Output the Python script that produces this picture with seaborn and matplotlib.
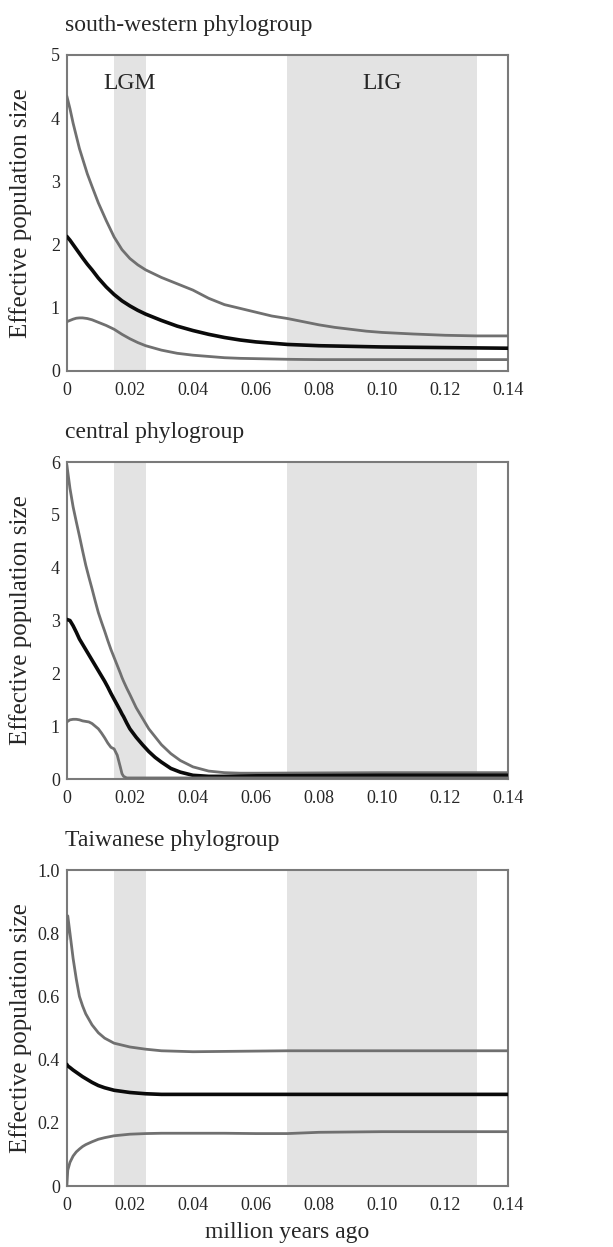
import pandas as pd
import seaborn as sns
import matplotlib.pyplot as plt

# south-western phylogroup
sw_x = [0, 0.001, 0.002, 0.003, 0.004, 0.005, 0.0065, 0.008, 0.01, 0.0125, 0.015, 0.0175,
        0.02, 0.0225, 0.025, 0.03, 0.035, 0.04, 0.045, 0.05, 0.055, 0.06, 0.065, 0.07,
        0.075, 0.08, 0.085, 0.09, 0.095, 0.10, 0.11, 0.12, 0.13, 0.14]
sw_upper = [4.35, 4.15, 3.92, 3.72, 3.52, 3.36, 3.12, 2.92, 2.66, 2.38, 2.12, 1.92,
            1.78, 1.68, 1.6, 1.48, 1.38, 1.28, 1.15, 1.05, 0.99, 0.93, 0.87, 0.83,
            0.78, 0.73, 0.69, 0.66, 0.63, 0.61, 0.585, 0.565, 0.555, 0.555]
sw_mean = [2.13, 2.07, 2.0, 1.93, 1.86, 1.79, 1.69, 1.6, 1.47, 1.33, 1.21, 1.11,
           1.03, 0.96, 0.9, 0.8, 0.71, 0.64, 0.58, 0.53, 0.49, 0.46, 0.44, 0.42,
           0.41, 0.4, 0.395, 0.39, 0.385, 0.38, 0.375, 0.37, 0.365, 0.36]
sw_lower = [0.78, 0.8, 0.82, 0.835, 0.84, 0.84, 0.83, 0.81, 0.77, 0.72, 0.66, 0.58,
            0.51, 0.45, 0.4, 0.33, 0.28, 0.25, 0.23, 0.21, 0.2, 0.195, 0.19, 0.185,
            0.182, 0.18, 0.18, 0.18, 0.18, 0.18, 0.18, 0.18, 0.18, 0.18]

# central phylogroup
ce_x = [0, 0.001, 0.002, 0.003, 0.004, 0.005, 0.006, 0.007, 0.008, 0.009, 0.01, 0.011,
        0.012, 0.013, 0.014, 0.015, 0.016, 0.017, 0.0175, 0.018, 0.019, 0.02, 0.022,
        0.024, 0.026, 0.028, 0.03, 0.033, 0.036, 0.04, 0.045, 0.05, 0.055, 0.06, 0.08,
        0.10, 0.12, 0.14]
ce_upper = [5.95, 5.5, 5.15, 4.87, 4.6, 4.32, 4.05, 3.82, 3.6, 3.37, 3.15, 2.97,
            2.8, 2.62, 2.45, 2.3, 2.15, 2.0, 1.92, 1.85, 1.72, 1.6, 1.35,
            1.15, 0.95, 0.8, 0.65, 0.48, 0.35, 0.23, 0.15, 0.12, 0.11, 0.11, 0.115,
            0.12, 0.12, 0.12]
ce_mean = [3.02, 3.0, 2.9, 2.78, 2.65, 2.55, 2.45, 2.35, 2.25, 2.15, 2.05, 1.95,
           1.85, 1.74, 1.62, 1.51, 1.4, 1.29, 1.23, 1.18, 1.06, 0.95, 0.79,
           0.65, 0.52, 0.41, 0.32, 0.2, 0.13, 0.07, 0.05, 0.05, 0.055, 0.06, 0.065,
           0.07, 0.07, 0.07]
ce_lower = [1.08, 1.12, 1.13, 1.13, 1.12, 1.1, 1.09, 1.08, 1.05, 1.0, 0.95, 0.87,
            0.78, 0.68, 0.6, 0.57, 0.45, 0.22, 0.1, 0.05, 0.02, 0.02, 0.02,
            0.02, 0.02, 0.02, 0.02, 0.02, 0.02, 0.02, 0.02, 0.02, 0.02, 0.02, 0.02,
            0.02, 0.02, 0.02]

# Taiwanese phylogroup
tw_x = [0, 0.0003, 0.001, 0.002, 0.003, 0.004, 0.005, 0.006, 0.008, 0.01, 0.012, 0.015,
        0.02, 0.025, 0.03, 0.04, 0.05, 0.06, 0.07, 0.08, 0.10, 0.12, 0.14]
tw_upper = [0.78, 0.855, 0.8, 0.72, 0.655, 0.6, 0.57, 0.545, 0.51, 0.485, 0.468, 0.452,
            0.44, 0.433, 0.428, 0.425, 0.426, 0.427, 0.428, 0.428, 0.428, 0.428, 0.428]
tw_mean = [0.385, 0.38, 0.375, 0.367, 0.36, 0.353, 0.346, 0.34, 0.328, 0.318, 0.311, 0.303,
           0.296, 0.292, 0.29, 0.29, 0.29, 0.29, 0.29, 0.29, 0.29, 0.29, 0.29]
tw_lower = [0.0, 0.05, 0.075, 0.095, 0.108, 0.117, 0.125, 0.131, 0.14, 0.148, 0.153, 0.159,
            0.164, 0.166, 0.167, 0.167, 0.167, 0.166, 0.166, 0.17, 0.172, 0.172, 0.172]

titles = ["south-western phylogroup", "central phylogroup", "Taiwanese phylogroup"]
panels = [(sw_x, sw_upper, sw_mean, sw_lower),
          (ce_x, ce_upper, ce_mean, ce_lower),
          (tw_x, tw_upper, tw_mean, tw_lower)]
ylims = [(0, 5), (0, 6), (0, 1.0)]
yticks = [[0, 1, 2, 3, 4, 5], [0, 1, 2, 3, 4, 5, 6], [0, 0.2, 0.4, 0.6, 0.8, 1.0]]
yticklabels = [["0", "1", "2", "3", "4", "5"], ["0", "1", "2", "3", "4", "5", "6"],
               ["0", "0.2", "0.4", "0.6", "0.8", "1.0"]]
xticks = [0, 0.02, 0.04, 0.06, 0.08, 0.10, 0.12, 0.14]
xticklabels = ["0", "0.02", "0.04", "0.06", "0.08", "0.10", "0.12", "0.14"]

sns.set_style("white")
plt.rcParams['font.family'] = ['Liberation Serif', 'DejaVu Serif']

fig = plt.figure(figsize=(6.13, 12.47), dpi=100)
boxes = [[0.109, 0.7025, 0.720, 0.2534],
         [0.109, 0.3753, 0.720, 0.2542],
         [0.109, 0.0489, 0.720, 0.2534]]

spine_col = "#7a7a7a"
for i, (x, up, mn, lo) in enumerate(panels):
    ax = fig.add_axes(boxes[i])
    ax.axvspan(0.015, 0.025, color="#e3e3e3", lw=0, zorder=0)
    ax.axvspan(0.07, 0.13, color="#e3e3e3", lw=0, zorder=0)
    df = pd.DataFrame({"x": x * 3, "y": up + mn + lo,
                       "series": ["upper"] * len(x) + ["mean"] * len(x) + ["lower"] * len(x)})
    sns.lineplot(data=df, x="x", y="y", hue="series",
                 palette={"upper": "#707070", "mean": "#0a0a0a", "lower": "#707070"},
                 linewidth=2.0, legend=False, ax=ax, zorder=3)
    ax.lines[1].set_linewidth(2.6)
    ax.set_xlim(0, 0.14)
    ax.set_ylim(*ylims[i])
    ax.set_xticks(xticks)
    ax.set_xticklabels(xticklabels, fontsize=13)
    ax.set_yticks(yticks[i])
    ax.set_yticklabels(yticklabels[i], fontsize=13)
    ax.tick_params(direction="out", length=3, width=1.2, color=spine_col, pad=2)
    ax.tick_params(axis="x", pad=5)
    ax.set_xlabel("")
    ax.set_ylabel("Effective population size", fontsize=18)
    ax.yaxis.set_label_coords(-0.08, 0.5)
    for s in ax.spines.values():
        s.set_color(spine_col)
        s.set_linewidth(1.5)
    ax.text(-0.005, 1.06, titles[i], transform=ax.transAxes, fontsize=17,
            ha="left", va="bottom")
    if i == 0:
        ax.text(0.02, 4.55, "LGM", fontsize=17, ha="center", va="center")
        ax.text(0.10, 4.55, "LIG", fontsize=17, ha="center", va="center")
    if i == 2:
        ax.set_xlabel("million years ago", fontsize=17, labelpad=6)

fig.savefig("out.png", dpi=100)
